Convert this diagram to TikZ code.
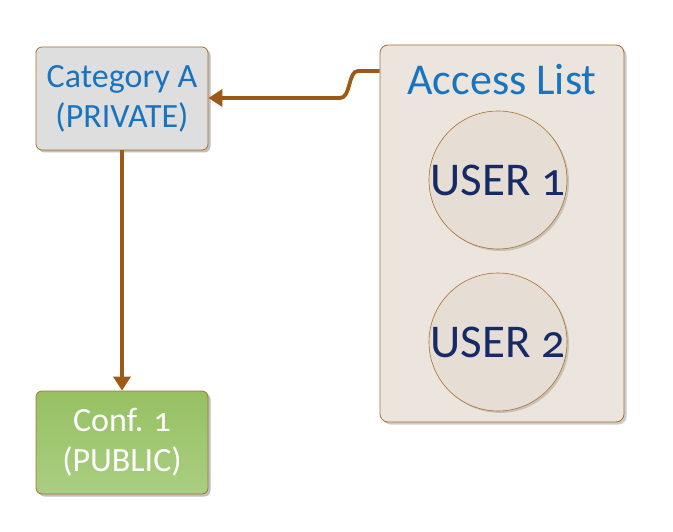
\documentclass[tikz,border=0pt]{standalone}
\usepackage{fontspec}
\setmainfont{Carlito}[Numbers=OldStyle]
\usetikzlibrary{shadows,arrows.meta}
\definecolor{brn}{HTML}{9C5B15}
\definecolor{bordr}{HTML}{A8702E}
\definecolor{bluet}{HTML}{1874C0}
\definecolor{navyt}{HTML}{152A66}
\definecolor{grayf}{HTML}{DEDEDE}
\definecolor{beigef}{HTML}{EBE5DD}
\definecolor{circf}{HTML}{E6DED4}
\begin{document}
\begin{tikzpicture}[x=1pt,y=-1pt,
  box/.style={draw=bordr, line width=0.8pt, rounded corners=6pt, minimum width=172pt, minimum height=103pt, align=center, inner sep=0pt,
     drop shadow={shadow xshift=2.5pt, shadow yshift=-2.5pt, fill=black, opacity=0.25}},
  usr/.style={circle, draw=bordr, line width=0.6pt, fill=circf, minimum size=138pt, inner sep=0pt, text=navyt, font=\fontsize{47}{50}\selectfont,
     drop shadow={shadow xshift=2pt, shadow yshift=-2pt, fill=black, opacity=0.15}},
  conn/.style={draw=brn, line width=3.8pt, -{Triangle[width=17pt,length=14pt]}}]
\useasboundingbox (0,0) rectangle (673,532);
\node[box, fill=grayf, text=bluet, font=\fontsize{34}{40}\selectfont] (cat) at (122,98.5) {Category A\\(PRIVATE)};
\node[box, top color={rgb,255:red,150;green,193;blue,98}, bottom color={rgb,255:red,170;green,206;blue,130}, text=white, font=\fontsize{34}{40}\selectfont] (conf) at (122,442.5) {Conf. 1\\(PUBLIC)};
\node[draw=bordr, line width=0.8pt, rounded corners=8pt, fill=beigef, minimum width=244pt, minimum height=377pt, inner sep=0pt,
     drop shadow={shadow xshift=2.5pt, shadow yshift=-2.5pt, fill=black, opacity=0.2}] (acc) at (502,233.5) {};
\node[text=bluet, font=\fontsize{44}{48}\selectfont] (acct) at (502,80) {Access List};
\node[usr] (u1) at (498,180) {USER 1};
\node[usr] (u2) at (498,342) {USER 2};
\coordinate (s) at (acc.west |- 0,71);
\draw[conn] (s) -- (358,71) .. controls (348,71) and (351,98) .. (340,98) -- (cat.east |- 0,98);
\draw[conn] (cat.south) -- (conf.north);
\end{tikzpicture}
\end{document}
